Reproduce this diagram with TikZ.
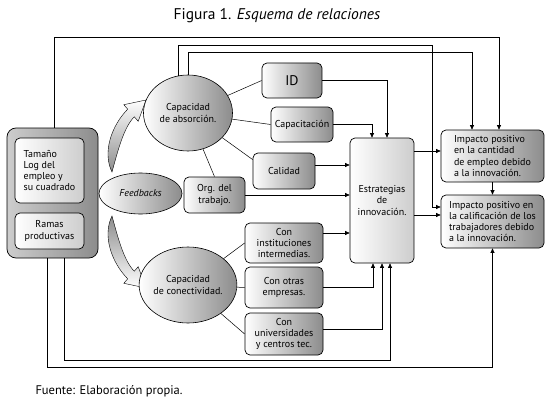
\documentclass[tikz,border=0pt]{standalone}
\usepackage{fontspec}
\setmainfont{PT Sans}
\definecolor{esqgris}{RGB}{140,140,140}
\definecolor{esqclaro}{RGB}{205,205,205}
\usetikzlibrary{arrows.meta,positioning,shapes.geometric,calc}

\begin{document}
\begin{tikzpicture}[x=1pt,y=-1pt,
  esqcaja/.style={draw,rounded corners=5pt,line width=0.7pt,left color=white,right color=esqgris,
    align=center,font=\fontsize{10}{11.2}\selectfont,inner sep=1pt},
  esqelip/.style={ellipse,draw,line width=0.6pt,left color=white,right color=esqgris,
    align=center,font=\fontsize{10}{11.2}\selectfont,inner sep=0pt},
  esqflecha/.style={-{Triangle[length=4.5pt,width=4pt]},line width=0.7pt},
  esqlinea/.style={line width=0.5pt},
  esqcurva/.style={draw,line width=0.4pt}
]
  \useasboundingbox (0,0) rectangle (557,412);
  % Title and source
  \node[font=\fontsize{15.5}{18}\selectfont] (titulo) at (277,16) {Figura 1. \textit{Esquema de relaciones}};
  \node[anchor=west,font=\fontsize{12.5}{15}\selectfont] (fuente) at (32,391) {Fuente: Elaboración propia.};
  % Curved feedback arrows
  \path[esqcurva,top color=white,bottom color=esqgris] (112,172) .. controls (102,152) and (112,125) .. (127.7,109.2)
    -- (123.8,104.7) -- (146,100) -- (138.2,121.3) -- (134.3,116.8) .. controls (124,127) and (118,150) .. cycle;
  \path[esqcurva,top color=esqgris,bottom color=white] (112,216) .. controls (102,236) and (112,263) .. (127.7,278.8)
    -- (123.8,283.3) -- (146,288) -- (138.2,266.7) -- (134.3,271.2) .. controls (124,261) and (118,238) .. cycle;
  % Left block: firm variables
  \node[esqcaja,rounded corners=9pt,left color=esqclaro,right color=esqgris,minimum width=91pt,minimum height=130pt] (izq) at (52.5,193) {};
  \node[esqcaja,right color=esqclaro,align=left,minimum width=69pt,minimum height=65pt] (tam) at (49.5,170.5) {Tamaño\\Log del\\empleo y\\su cuadrado};
  \node[esqcaja,right color=esqclaro,minimum width=69pt,minimum height=36pt] (ram) at (49.5,231) {Ramas\\productivas};
  % Capacities and feedbacks
  \node[esqelip,minimum width=83pt,minimum height=41pt] (feed) at (140.5,193.5) {\textit{Feedbacks}};
  \node[esqelip,minimum width=89pt,minimum height=76pt] (abs) at (188,113) {Capacidad\\de absorción.};
  \node[esqelip,minimum width=88pt,minimum height=76pt] (con) at (188,285) {Capacidad\\de conectividad.};
  % Absorption components
  \node[esqcaja,font=\fontsize{14}{16}\selectfont,minimum width=60pt,minimum height=35pt] (id) at (292,80.5) {ID};
  \node[esqcaja,minimum width=62pt,minimum height=35pt] (cap) at (302,124.5) {Capacitación};
  \node[esqcaja,minimum width=62pt,minimum height=36pt] (cal) at (284,171) {Calidad};
  \node[esqcaja,minimum width=61pt,minimum height=36pt] (org) at (214.5,195) {Org. del\\trabajo.};
  % Connectivity components
  \node[esqcaja,minimum width=78pt,minimum height=40pt] (inst) at (284,243) {Con\\instituciones\\intermedias.};
  \node[esqcaja,minimum width=78pt,minimum height=41pt] (otr) at (284,287.5) {Con otras\\empresas.};
  \node[esqcaja,minimum width=78pt,minimum height=42pt] (uni) at (284,334) {Con\\universidades\\y centros tec.};
  % Strategies and impacts
  \node[esqcaja,right color=esqclaro,minimum width=64pt,minimum height=125pt] (estr) at (382,200.5) {Estrategias\\de\\innovación.};
  \node[esqcaja,align=left,minimum width=103pt,minimum height=52pt] (cant) at (492.5,156) {Impacto positivo\\en la cantidad\\de empleo debido\\a la innovación.};
  \node[esqcaja,align=left,minimum width=103pt,minimum height=53pt] (cali) at (492.5,221.5) {Impacto positivo en\\la calificación de los\\trabajadores debido\\a la innovación.};
  % Routing levels
  \coordinate (nivA) at (0,37);
  \coordinate (nivB) at (0,45);
  \coordinate (nivC) at (0,52);
  \coordinate (nivD) at (0,360);
  \coordinate (nivE) at (0,367);
  \coordinate (colA) at (432,0);
  \coordinate (izqA) at ([xshift=1.5pt]izq.north);
  \coordinate (izqB) at ([xshift=-5.5pt]izq.south);
  \coordinate (izqC) at ([xshift=11.5pt]izq.south);
  \coordinate (cantA) at ([xshift=6.5pt]cant.north);
  \coordinate (cantB) at ([xshift=-20.5pt]cant.north);
  \coordinate (cantC) at ([yshift=5pt]cant.west);
  \coordinate (caliA) at ([yshift=14.5pt]cali.west);
  \coordinate (caliB) at ([yshift=6.5pt]cali.west);
  \coordinate (estrA) at ([xshift=5pt]estr.north);
  \coordinate (estrB) at ([xshift=-10pt]estr.north);
  \coordinate (estrD) at ([xshift=8pt]estr.south);
  \coordinate (estrE) at ([xshift=-9pt]estr.south);
  \coordinate (calA) at ([yshift=6pt]cal.east);
  \coordinate (instA) at ([yshift=10pt]inst.east);
  \coordinate (uniA) at ([yshift=5pt]uni.east);
  % Plain links from capacities
  \draw[esqlinea] (abs) -- (id.west);
  \draw[esqlinea] (abs) -- (cap.west);
  \draw[esqlinea] (abs) -- (cal.160);
  \draw[esqlinea] (abs) -- (org.north);
  \draw[esqlinea] (con) -- (inst.west);
  \draw[esqlinea] (con) -- (otr.west);
  \draw[esqlinea] (con) -- (uni.west);
  % Long routes over the top
  \draw[esqflecha] (izqA) -- (izqA |- nivA) -| (cantA);
  \draw[esqflecha] (abs.105) -- (abs.105 |- nivB) -| (colA |- caliA) -- (caliA);
  \draw[esqflecha] (abs.north) -- (abs.north |- nivC) -| (cantB);
  % Into the strategies
  \draw[esqflecha] (id.east) -| (estrA);
  \draw[esqflecha] (cap.east) -| (estrB);
  \draw[esqflecha] (calA) -- (calA -| estr.west);
  \draw[esqflecha] (org.east) -- (org.east -| estr.west);
  \draw[esqflecha] (instA) -- (instA -| estr.west);
  \draw[esqflecha] (otr.east) -| (estrE);
  \draw[esqflecha] (uniA) -| (estr.south);
  % Long routes along the bottom
  \draw[esqflecha] (izqC) -- (izqC |- nivD) -| (estrD);
  \draw[esqflecha] (izqB) -- (izqB |- nivE) -| (cali.south);
  % Towards the impacts
  \draw[esqflecha] (cantC -| estr.east) -- (cantC);
  \draw[esqflecha] (caliB -| estr.east) -- (caliB);
  \draw[esqflecha] (cant.south) -- (cali.north);
\end{tikzpicture}
\end{document}
